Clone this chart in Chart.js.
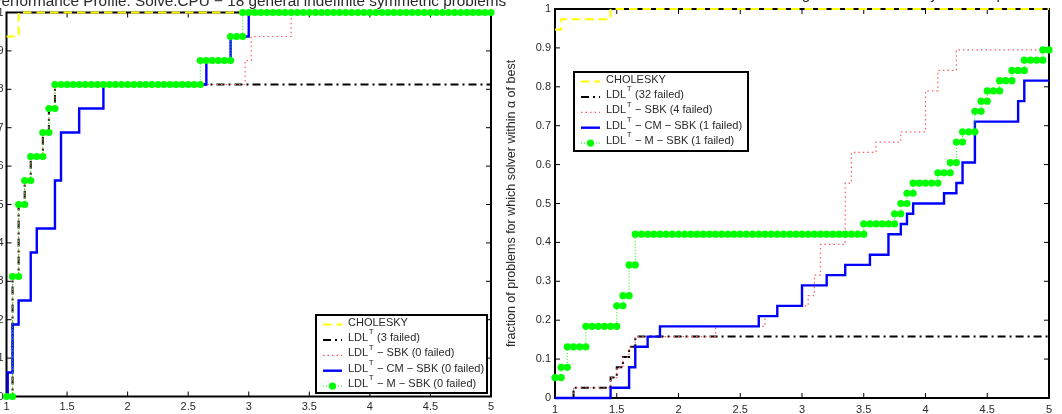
<!DOCTYPE html>
<html>
<head>
<meta charset="utf-8">
<script src="https://cdn.jsdelivr.net/npm/chart.js@4.4.0/dist/chart.umd.min.js"></script>
<style>
  html, body { margin: 0; padding: 0; background: #fff; overflow: hidden; }
  body { width: 1062px; height: 414px; position: relative; }
  canvas { position: absolute; }
  #left { left: -60px; top: -20px; width: 580px; height: 434px; }
  #right { left: 496px; top: -20px; width: 566px; height: 434px; }
</style>
</head>
<body>
<canvas id="left" width="580" height="434"></canvas>
<canvas id="right" width="566" height="434"></canvas>
<script>
// axis ticks (same on both panels)
const xTicks = [1, 1.5, 2, 2.5, 3, 3.5, 4, 4.5, 5];
const xTickLabels = ['1', '1.5', '2', '2.5', '3', '3.5', '4', '4.5', '5'];
const yTicks = [0, 0.1, 0.2, 0.3, 0.4, 0.5, 0.6, 0.7, 0.8, 0.9, 1];
const yTickLabels = ['0', '0.1', '0.2', '0.3', '0.4', '0.5', '0.6', '0.7', '0.8', '0.9', '1'];

const yAxisTitle = 'fraction of problems for which solver within \u03b1 of best';

// sample points of alpha where the "M - SBK" markers sit (1, 1.05, ..., 5)
const gridAlpha = [];
for (let i = 0; i <= 80; i++) gridAlpha.push(Math.round((1 + i * 0.05) * 100) / 100);

// ---- left panel: 16 counted problems ----
const leftTitle = 'Performance Profile: Solve.CPU \u2212 18 general indefinite symmetric problems';
const leftN = 16;
const leftLegend = [
  ['CHOLESKY'],
  ['LDL', 'T', ' (3 failed)'],
  ['LDL', 'T', ' \u2212 SBK (0 failed)'],
  ['LDL', 'T', ' \u2212 CM \u2212 SBK (0 failed)'],
  ['LDL', 'T', ' \u2212 M \u2212 SBK (0 failed)']
];
const leftCholAlpha = [1, 1.1, 5];
const leftCholCount = [15, 16, 16];
const leftLdlAlpha = [1, 1.05, 1.1, 1.15, 1.2, 1.3, 1.35, 1.4, 5];
const leftLdlCount = [0, 5, 8, 9, 10, 11, 12, 13, 13];
const leftSbkAlpha = [1, 1.05, 1.1, 1.15, 1.2, 1.3, 1.35, 1.4, 2.97, 3.02, 3.35, 5];
const leftSbkCount = [0, 5, 8, 9, 10, 11, 12, 13, 14, 15, 16, 16];
const leftCmAlpha = [1, 1.01, 1.05, 1.1, 1.2, 1.25, 1.4, 1.45, 1.6, 1.8, 2.65, 2.85, 3.0, 5];
const leftCmCount = [0, 1, 3, 4, 6, 7, 9, 11, 12, 13, 14, 15, 16, 16];
const leftMCount = [
  0, 5, 8, 9, 10, 10, 11, 12, 13, 13,
  13, 13, 13, 13, 13, 13, 13, 13, 13, 13,
  13, 13, 13, 13, 13, 13, 13, 13, 13, 13,
  13, 13, 14, 14, 14, 14, 14, 15, 15, 16,
  16, 16, 16, 16, 16, 16, 16, 16, 16, 16,
  16, 16, 16, 16, 16, 16, 16, 16, 16, 16,
  16, 16, 16, 16, 16, 16, 16, 16, 16, 16,
  16, 16, 16, 16, 16, 16, 16, 16, 16, 16,
  16
];

// ---- right panel: 38 problems ----
const rightTitle = 'Performance Profile: Solve.CPU \u2212 38 general indefinite symmetric problems';
const rightN = 38;
const rightLegend = [
  ['CHOLESKY'],
  ['LDL', 'T', ' (32 failed)'],
  ['LDL', 'T', ' \u2212 SBK (4 failed)'],
  ['LDL', 'T', ' \u2212 CM \u2212 SBK (1 failed)'],
  ['LDL', 'T', ' \u2212 M \u2212 SBK (1 failed)']
];
const rightCholAlpha = [1, 1.05, 1.45, 5];
const rightCholCount = [36, 37, 38, 38];
const rightLdlAlpha = [1, 1.15, 1.45, 1.5, 1.55, 1.6, 1.65, 5];
const rightLdlCount = [0, 1, 2, 3, 4, 5, 6, 6];
const rightSbkAlpha = [1, 1.15, 1.45, 1.5, 1.55, 1.6, 1.65, 2.3, 2.7, 2.8, 3.05, 3.1, 3.15, 3.35, 3.4, 3.6, 3.8, 4.0, 4.1, 4.25, 5];
const rightSbkCount = [0, 1, 2, 3, 4, 5, 6, 7, 8, 9, 10, 12, 15, 21, 24, 25, 26, 30, 32, 34, 34];
const rightCmAlpha = [1, 1.45, 1.6, 1.65, 1.75, 1.85, 2.65, 2.8, 3.0, 3.2, 3.35, 3.55, 3.7, 3.8, 3.85, 3.9, 4.15, 4.25, 4.3, 4.4, 4.75, 4.8, 5];
const rightCmCount = [0, 1, 3, 5, 6, 7, 8, 9, 11, 12, 13, 14, 16, 17, 18, 19, 20, 21, 23, 27, 29, 31, 31];
const rightMCount = [
  2, 3, 5, 5, 5, 7, 7, 7, 7, 7,
  9, 10, 13, 16, 16, 16, 16, 16, 16, 16,
  16, 16, 16, 16, 16, 16, 16, 16, 16, 16,
  16, 16, 16, 16, 16, 16, 16, 16, 16, 16,
  16, 16, 16, 16, 16, 16, 16, 16, 16, 16,
  17, 17, 17, 17, 17, 18, 19, 20, 21, 21,
  21, 21, 22, 22, 23, 25, 26, 26, 28, 29,
  30, 30, 31, 31, 32, 32, 33, 33, 33, 34,
  34
];

// line styles, legend order
const seriesStyles = [
  { color: '#ffff00', width: 2, dash: [8.5, 5] },
  { color: '#000000', width: 2, dash: [8, 4, 2, 4] },
  { color: '#ff5a5a', width: 1.2, dash: [1.5, 3] },
  { color: '#0000ff', width: 2.4, dash: [] },
  { color: '#00ff00', width: 1, dash: [1, 2], marker: true }
];

const FONT = "'Liberation Sans', Arial, Helvetica, sans-serif";
const TEXT = '#2a2a2a';

// stairs: value holds until the next alpha
function stairs(alpha, count, n) {
  return alpha.map((a, i) => ({ x: a, y: count[i] / n }));
}
// marker path: a marker at both ends of every jump
function markerPath(alpha, count, n) {
  const pts = [];
  alpha.forEach((a, i) => {
    if (i > 0 && count[i] !== count[i - 1]) pts.push({ x: a, y: count[i - 1] / n });
    pts.push({ x: a, y: count[i] / n });
  });
  return pts;
}

function lineSet(data, st) {
  return {
    data: data,
    stepped: 'before',
    borderColor: st.color,
    borderWidth: st.width,
    borderDash: st.dash,
    pointRadius: st.marker ? 3.6 : 0,
    pointBackgroundColor: st.color,
    pointBorderWidth: 0,
    fill: false,
    clip: false,
    tension: 0
  };
}

function drawLegend(ctx, box, labels) {
  ctx.save();
  ctx.fillStyle = '#fff';
  ctx.fillRect(box.x, box.y, box.w, box.h);
  labels.forEach((lab, i) => {
    const st = seriesStyles[i];
    const cy = box.y + 9.5 + i * 15.4;
    const x0 = box.x + 7, x1 = box.x + 26;
    ctx.strokeStyle = st.color;
    ctx.lineWidth = st.width;
    ctx.setLineDash(st.dash);
    ctx.beginPath(); ctx.moveTo(x0, cy); ctx.lineTo(x1, cy); ctx.stroke();
    if (st.marker) {
      ctx.fillStyle = st.color;
      ctx.beginPath(); ctx.arc((x0 + x1) / 2, cy, 3.6, 0, 2 * Math.PI); ctx.fill();
    }
    ctx.setLineDash([]);
    ctx.fillStyle = TEXT;
    ctx.textBaseline = 'middle';
    ctx.textAlign = 'left';
    ctx.font = '11px ' + FONT;
    let tx = box.x + 32;
    ctx.fillText(lab[0], tx, cy - 2);
    if (lab.length > 1) {
      tx += ctx.measureText(lab[0]).width + 0.5;
      ctx.font = '8px ' + FONT;
      ctx.fillText(lab[1], tx, cy - 8);
      tx += ctx.measureText(lab[1]).width + 0.5;
      ctx.font = '11px ' + FONT;
      ctx.fillText(lab[2], tx, cy - 2);
    }
  });
  ctx.strokeStyle = '#000';
  ctx.lineWidth = 2;
  ctx.strokeRect(box.x, box.y, box.w, box.h);
  ctx.restore();
}

// Matlab-like box with inward ticks, title, y label and legend
const matlabAxes = {
  id: 'matlabAxes',
  beforeDatasetsDraw(chart, args, opts) {
    const { ctx, chartArea: a, scales: { x, y } } = chart;
    ctx.save();
    ctx.strokeStyle = '#000';
    ctx.lineWidth = 1;
    ctx.beginPath();
    xTicks.forEach(v => {
      const px = x.getPixelForValue(v);
      ctx.moveTo(px, a.bottom); ctx.lineTo(px, a.bottom - 5);
      ctx.moveTo(px, a.top); ctx.lineTo(px, a.top + 5);
    });
    yTicks.forEach(v => {
      const py = y.getPixelForValue(v);
      ctx.moveTo(a.left, py); ctx.lineTo(a.left + 5, py);
      ctx.moveTo(a.right, py); ctx.lineTo(a.right - 5, py);
    });
    ctx.stroke();
    ctx.lineWidth = 2;
    ctx.strokeRect(a.left, a.top, a.right - a.left, a.bottom - a.top);
    ctx.restore();
  },
  afterDraw(chart, args, opts) {
    const { ctx, chartArea: a } = chart;
    ctx.save();
    ctx.fillStyle = TEXT;
    ctx.font = '15.3px ' + FONT;
    ctx.textAlign = 'center';
    ctx.textBaseline = 'alphabetic';
    ctx.fillText(opts.title, (a.left + a.right) / 2, a.top - opts.titleGap);
    ctx.translate(a.left - 43, (a.top + a.bottom) / 2);
    ctx.rotate(-Math.PI / 2);
    ctx.font = '12.5px ' + FONT;
    ctx.textBaseline = 'middle';
    ctx.fillText(yAxisTitle, 0, 0);
    ctx.restore();
    const b = opts.legendBox(a);
    drawLegend(ctx, b, opts.legend);
  }
};

function makePanel(id, p) {
  return new Chart(document.getElementById(id), {
    type: 'line',
    data: {
      datasets: [
        lineSet(markerPath(gridAlpha, p.mCount, p.n), seriesStyles[4]),
        lineSet(stairs(p.cmAlpha, p.cmCount, p.n), seriesStyles[3]),
        lineSet(stairs(p.sbkAlpha, p.sbkCount, p.n), seriesStyles[2]),
        lineSet(stairs(p.ldlAlpha, p.ldlCount, p.n), seriesStyles[1]),
        lineSet(stairs(p.cholAlpha, p.cholCount, p.n), seriesStyles[0])
      ]
    },
    options: {
      responsive: false,
      animation: false,
      devicePixelRatio: 1,
      events: [],
      layout: { padding: p.padding },
      plugins: {
        legend: { display: false },
        tooltip: { enabled: false },
        matlabAxes: { title: p.title, titleGap: p.titleGap, legend: p.legend, legendBox: p.legendBox }
      },
      scales: {
        x: {
          type: 'linear', min: 1, max: 5,
          grid: { display: false, drawTicks: false }, border: { display: false },
          afterBuildTicks: s => { s.ticks = xTicks.map(v => ({ value: v })); },
          afterFit: s => { s.height = p.xHeight; },
          ticks: {
            padding: p.xPad, maxRotation: 0, autoSkip: false, color: TEXT,
            font: { family: FONT, size: 11 },
            callback: (v, i) => xTickLabels[i]
          }
        },
        y: {
          type: 'linear', min: 0, max: 1,
          grid: { display: false, drawTicks: false }, border: { display: false },
          afterBuildTicks: s => { s.ticks = yTicks.map(v => ({ value: v })); },
          afterFit: s => { s.width = p.yWidth; },
          ticks: {
            padding: p.yPad, autoSkip: false, color: TEXT,
            font: { family: FONT, size: 11 },
            callback: (v, i) => yTickLabels[i]
          }
        }
      }
    },
    plugins: [matlabAxes]
  });
}

makePanel('left', {
  n: leftN, title: leftTitle, titleGap: 6.5, legend: leftLegend,
  cholAlpha: leftCholAlpha, cholCount: leftCholCount,
  ldlAlpha: leftLdlAlpha, ldlCount: leftLdlCount,
  sbkAlpha: leftSbkAlpha, sbkCount: leftSbkCount,
  cmAlpha: leftCmAlpha, cmCount: leftCmCount,
  mCount: leftMCount,
  padding: { left: 0, right: 29, top: 32.5, bottom: 0 },
  yWidth: 66.5, xHeight: 17.5, xPad: 3.5, yPad: 3,
  legendBox: a => ({ x: a.right - 175, y: a.bottom - 81.5, w: 171, h: 78 })
});

makePanel('right', {
  n: rightN, title: rightTitle, titleGap: 10, legend: rightLegend,
  cholAlpha: rightCholAlpha, cholCount: rightCholCount,
  ldlAlpha: rightLdlAlpha, ldlCount: rightLdlCount,
  sbkAlpha: rightSbkAlpha, sbkCount: rightSbkCount,
  cmAlpha: rightCmAlpha, cmCount: rightCmCount,
  mCount: rightMCount,
  padding: { left: 0, right: 13, top: 29, bottom: 0 },
  yWidth: 59, xHeight: 16, xPad: 5, yPad: 4,
  legendBox: a => ({ x: a.left + 19, y: a.top + 63, w: 174, h: 79 })
});
</script>
</body>
</html>
